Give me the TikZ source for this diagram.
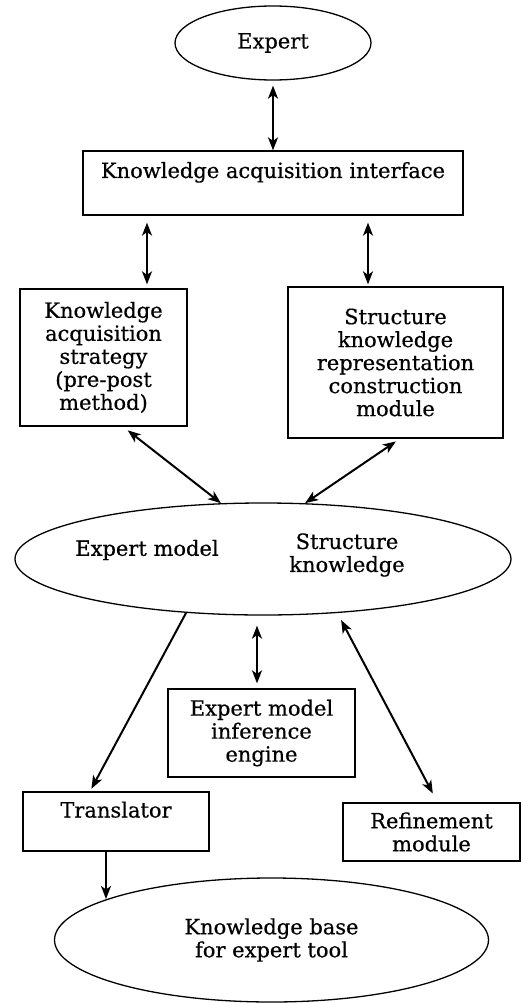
\documentclass[tikz,border=0pt]{standalone}
\usepackage{fontspec}
\setmainfont{DejaVu Serif}[FakeBold=0.5]
\usetikzlibrary{arrows.meta,shapes.geometric,calc}
\begin{document}
\begin{tikzpicture}[x=1pt,y=-1pt,
  txt/.style={font=\fontsize{21}{23}\selectfont},
  box/.style={draw, line width=1.3pt, inner sep=0pt, align=center, txt},
  oval/.style={draw, ellipse, line width=1.3pt, inner sep=0pt, align=center, txt},
  lbl/.style={align=center, inner sep=0pt, txt},
  dbl/.style={line width=2pt, {Stealth[length=13pt,width=10pt,inset=3.5pt]}-{Stealth[length=13pt,width=10pt,inset=3.5pt]}},
  sgl/.style={line width=2pt, -{Stealth[length=13pt,width=10pt,inset=3.5pt]}}]
\useasboundingbox (0,0) rectangle (521,1003);

\node[oval, minimum width=196pt, minimum height=74pt] (expert) at (273,43) {Expert};
\node[box, minimum width=380pt, minimum height=64pt, text height=16pt, text depth=26pt] (kai) at (273,183) {Knowledge acquisition interface};
\node[box, minimum width=167pt, minimum height=137pt] (kas) at (103.5,357.5) {Knowledge\\acquisition\\strategy\\(pre-post\\method)};
\node[box, minimum width=215pt, minimum height=151pt] (skr) at (395.5,362.5) {Structure\\knowledge\\representation\\construction\\module};
\node[oval, minimum width=496pt, minimum height=112pt] (em) at (263,559) {};
\node[lbl] (emt) at (147,550) {Expert model};
\node[lbl] (skt) at (347,555) {Structure\\knowledge};
\node[box, minimum width=187pt, minimum height=88pt] (emie) at (261.5,733) {Expert model\\inference\\engine};
\node[box, minimum width=186pt, minimum height=59pt, text height=16pt, text depth=24pt] (tr) at (116,821.5) {Translator};
\node[box, minimum width=177pt, minimum height=58pt] (ref) at (431.5,832) {Refinement\\module};
\node[oval, minimum width=434pt, minimum height=124pt] (kb) at (271.5,940) {Knowledge base\\for expert tool};

\coordinate (trb) at ($(tr.south)+(-10,0)$);

\draw[dbl, shorten <=5pt] (expert.south) -- (kai.north);
\draw[dbl, shorten <=7pt, shorten >=4pt] ($(kai.south)+(-126,0)$) -- ($(kas.north)+(43.5,0)$);
\draw[dbl, shorten <=7pt, shorten >=2pt] ($(kai.south)+(95,0)$) -- ($(skr.north)+(-27.5,0)$);
\draw[dbl, shorten <=6pt] ($(kas.south)+(19.5,0)$) -- (em.127);
\draw[dbl, shorten <=5pt] ($(skr.south)+(4.5,0)$) -- (em.53);
\draw[sgl, shorten >=3pt] (em.215) -- ($(tr.north)+(-26,0)$);
\draw[dbl, shorten <=10pt, shorten >=5pt] ($(em.south)+(-6,0)$) -- ($(emie.north)+(-4.5,0)$);
\draw[dbl, shorten <=8pt, shorten >=10pt] (em.-36) -- ($(ref.north)+(6,0)$);
\draw[sgl] (trb) -- (trb |- kb.166.4);
\end{tikzpicture}
\end{document}
